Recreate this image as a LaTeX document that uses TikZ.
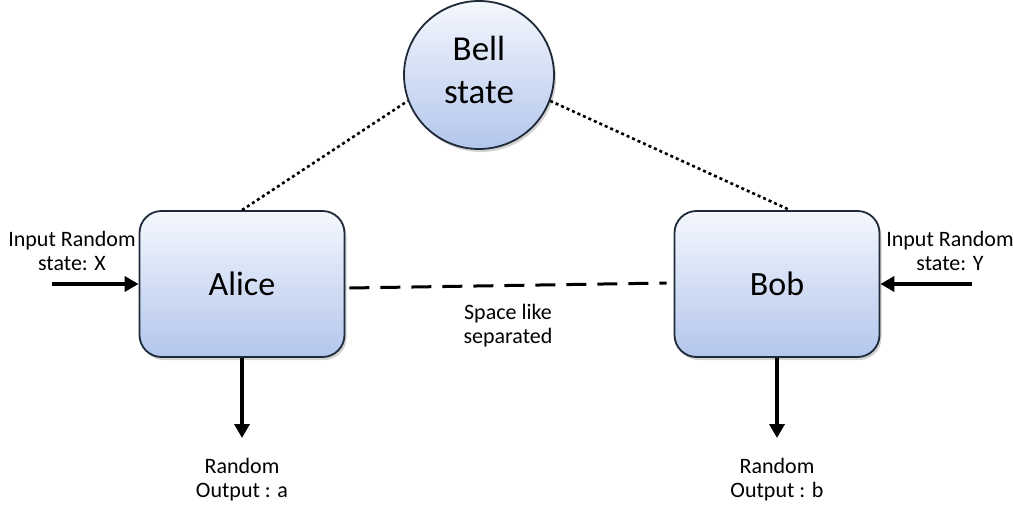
\documentclass[tikz,border=0pt]{standalone}
\usepackage{fontspec}
\setmainfont{Carlito}
\usetikzlibrary{arrows.meta,shapes.geometric,shadows,calc}
\definecolor{boxtop}{HTML}{F4F7FD}
\definecolor{boxbot}{HTML}{B3C6EC}
\definecolor{boxline}{HTML}{1E2A38}
\tikzset{
  agent/.style={draw=boxline, line width=1.8pt, rounded corners=22pt,
    minimum width=205pt, minimum height=146pt, top color=boxtop, bottom color=boxbot,
    drop shadow={opacity=0.35, shadow xshift=2pt, shadow yshift=-3pt},
    font=\fontsize{34}{40}\selectfont},
  source/.style={ellipse, draw=boxline, line width=1.8pt, minimum width=150pt, minimum height=148pt,
    top color=boxtop, bottom color=boxbot,
    drop shadow={opacity=0.35, shadow xshift=2pt, shadow yshift=-3pt}},
  bellText/.style={align=center, font=\fontsize{35}{43}\selectfont, inner sep=0pt},
  lbl/.style={align=center, font=\fontsize{22}{22}\selectfont, inner sep=0pt},
  inarrow/.style={line width=4pt, -{Triangle[length=14pt,width=15pt]}},
  entangle/.style={line width=2.6pt, dash pattern=on 3pt off 3pt},
  spacesep/.style={line width=3pt, dash pattern=on 20pt off 11pt},
}
\begin{document}
\begin{tikzpicture}[x=1pt,y=-1pt]
\useasboundingbox (0,0) rectangle (1013,506);
\node[agent] (alice) at (242,284) {Alice};
\node[agent] (bob) at (777,284) {Bob};
\node[source] (bell) at (479,75) {};
\node[bellText] (belltxt) at (479,70) {Bell\\state};

\draw[entangle] (alice.north) -- (bell.200);
\draw[entangle] (bell.340) -- ($(bob.north)+(13,0)$);
\draw[spacesep] ($(alice.east)+(4,4)$) -- ($(bob.west)+(-7,-1)$);

\coordinate (inX) at (52,284);
\coordinate (inY) at (972,284);
\coordinate (outA) at (242,438);
\coordinate (outB) at (777,438);
\draw[inarrow] (inX) -- (alice.west);
\draw[inarrow] (inY) -- (bob.east);
\draw[inarrow] (alice.south) -- (outA);
\draw[inarrow] (bob.south) -- (outB);

\node[lbl] (lx) at (72,251) {Input Random\\[2pt]state: X};
\node[lbl] (ly) at (950,251) {Input Random\\[2pt]state: Y};
\node[lbl] (ls) at (508,326) {Space like\\[2pt]separated};
\node[lbl] (la) at (242,480) {Random\\[2pt]Output : a};
\node[lbl] (lb) at (777,480) {Random\\[2pt]Output : b};
\end{tikzpicture}
\end{document}
